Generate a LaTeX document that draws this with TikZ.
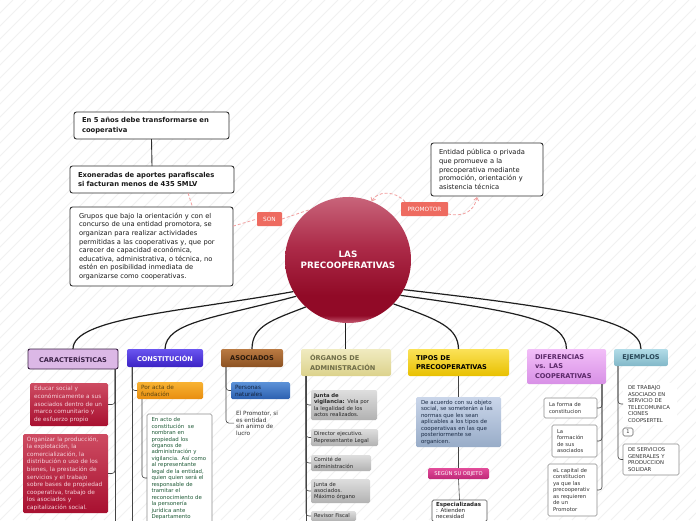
\documentclass[tikz,border=0pt]{standalone}
\usepackage{fontspec}
\setmainfont{DejaVu Sans}
\usetikzlibrary{arrows.meta,calc}
\definecolor{bdark}{HTML}{2E2E2E}
\definecolor{tdark}{HTML}{1A1A1A}
\definecolor{relpink}{HTML}{F2A0A0}
\definecolor{labred}{HTML}{EE6B60}
\definecolor{hatchc}{HTML}{F1F1F1}
\definecolor{lineg}{HTML}{444444}
\definecolor{cTop}{HTML}{C8647A}
\definecolor{cMid}{HTML}{AC2A48}
\definecolor{cDark}{HTML}{910A27}
\definecolor{cRim}{HTML}{C65C74}
\definecolor{carfill}{HTML}{DCB8E6}
\definecolor{cardraw}{HTML}{3A1F42}
\definecolor{cartext}{HTML}{3A2146}
\definecolor{conT}{HTML}{6A55F0}
\definecolor{conB}{HTML}{3B22C4}
\definecolor{asoT}{HTML}{BA7A42}
\definecolor{asoB}{HTML}{8C5222}
\definecolor{asotext}{HTML}{2B1A0C}
\definecolor{orgT}{HTML}{F0EBC0}
\definecolor{orgB}{HTML}{DCD28C}
\definecolor{orgtext}{HTML}{6E6C48}
\definecolor{tipT}{HTML}{FBE258}
\definecolor{tipB}{HTML}{E8C000}
\definecolor{difT}{HTML}{F2BEF8}
\definecolor{difB}{HTML}{D890E6}
\definecolor{diftext}{HTML}{5A2868}
\definecolor{ejeT}{HTML}{B2DCE8}
\definecolor{ejeB}{HTML}{82B8C8}
\definecolor{ejetext}{HTML}{2A4858}
\definecolor{redT}{HTML}{CE4C62}
\definecolor{redB}{HTML}{A81030}
\definecolor{redtext}{HTML}{F6D2DA}
\definecolor{oraT}{HTML}{F8B232}
\definecolor{oraB}{HTML}{E88E10}
\definecolor{oratext}{HTML}{5A4512}
\definecolor{bluT}{HTML}{5C92D8}
\definecolor{bluB}{HTML}{2C60B0}
\definecolor{blutext}{HTML}{13233D}
\definecolor{gryT}{HTML}{DEDEDE}
\definecolor{gryB}{HTML}{B2B2B2}
\definecolor{stlT}{HTML}{CAD6EA}
\definecolor{stlB}{HTML}{98ACC8}
\definecolor{stltext}{HTML}{1A2A44}
\definecolor{magT}{HTML}{E24C9A}
\definecolor{magB}{HTML}{C02878}
\definecolor{greentext}{HTML}{1E5A36}
\pgfdeclareverticalshading{ballshade}{100bp}{color(0bp)=(cRim); color(25bp)=(cRim); color(28bp)=(cDark); color(36bp)=(cDark); color(55bp)=(cMid); color(75bp)=(cTop); color(100bp)=(cTop)}
\newcommand\fsz[2]{\fontsize{#1}{#2}\selectfont}
\begin{document}
\begin{tikzpicture}[x=1pt,y=-1pt,
  nw/.style={anchor=north west, inner ysep=0pt, outer sep=0pt},
  topbox/.style={nw, draw=bdark, line width=0.9pt, fill=white, rounded corners=2.5pt, align=left, text=tdark},
  hdr/.style={nw, rounded corners=2pt, align=center, font=\bfseries\fsz{6.6}{9.6}, inner xsep=3pt},
  kid/.style={nw, rounded corners=1.5pt, align=left, inner xsep=4pt},
  conn/.style={draw=lineg, line width=0.6pt, rounded corners=3pt},
  branch/.style={draw=black!88, line width=1.2pt},
  rel/.style={draw=relpink, dash pattern=on 3pt off 2pt, line width=0.8pt},
  lab/.style={nw, fill=labred, text=white, rounded corners=1pt, font=\fsz{5.8}{7}, inner sep=0pt},
  redk/.style={kid, top color=redT, bottom color=redB, text=redtext, font=\fsz{5.8}{7.6}},
  gryk/.style={kid, inner xsep=3pt, top color=gryT, bottom color=gryB, text=black!85, font=\fsz{5.3}{6.4}},
  whk/.style={kid, inner xsep=5pt, fill=white, draw=black!45, line width=0.6pt, text=black!80, font=\fsz{5.3}{6.6}}
]
\useasboundingbox (0,0) rectangle (696,520);
\clip (0,0) rectangle (696,520);
\fill[white] (0,0) rectangle (696,520);
\foreach \i in {-520,-507,...,700} \draw[hatchc, line width=0.8pt] (\i,520) -- ++(520,-520);

% top boxes
\node[topbox, font=\bfseries\fsz{6.8}{9.2}, text width=139pt, inner xsep=8pt, minimum height=27pt] (b1) at (74,112) {En 5 años debe transformarse en\\cooperativa};
\node[topbox, font=\bfseries\fsz{6.8}{9.2}, text width=148pt, inner xsep=8pt, minimum height=27pt] (b2) at (70,166) {Exoneradas de aportes parafiscales\\si facturan menos de 435 SMLV};
\node[topbox, font=\fsz{6.7}{8.6}, text width=145pt, inner xsep=9pt, minimum height=79pt] (b3) at (70,207) {Grupos que bajo la orientación y con el\\concurso de una entidad promotora, se\\organizan para realizar actividades\\permitidas a las cooperativas y, que por\\carecer de capacidad económica,\\educativa, administrativa, o técnica, no\\estén en posibilidad inmediata de\\organizarse como cooperativas.};
\node[topbox, font=\fsz{6.7}{8.6}, text width=96pt, inner xsep=8pt, minimum height=53pt] (b4) at (431,143) {Entidad pública o privada\\que promueve a la\\precoperativa mediante\\promoción, orientación y\\asistencia técnica};

\draw[draw=bdark, line width=0.9pt] (b1.south) -- (b2.north);

% central circle
\node[circle, minimum size=126pt, inner sep=0pt, shading=ballshade, text=white, font=\bfseries\fsz{8.8}{11.5}, align=center] (c) at (348,260) {LAS\\PRECOOPERATIVAS};

% relation labels
\node[lab, minimum width=25pt, minimum height=14pt] (son) at (257,212) {SON};
\node[lab, minimum width=47pt, minimum height=14pt] (prom) at (401,202) {PROMOTOR};

\draw[rel] ($(b2.south)+(36,0)$) -- ($(b3.north)+(41,0)$);
\draw[rel] (b3.14) -- (son.west);
\draw[rel] (son.east) -- (c.127);
\draw[rel, {Straight Barb[length=3pt,width=5pt]}-] (c.68) .. controls (377,191) and (395,190) .. (prom.160);
\draw[rel, -{Straight Barb[length=3pt,width=5pt]}] (prom.-12) .. controls (463,217) and (474,212) .. ($(b4.south)+(-10,1)$);

% category headers
\node[hdr, fill=carfill, draw=cardraw, line width=0.9pt, text=cartext, minimum width=90pt, minimum height=20pt] (car) at (28,349) {CARACTERÍSTICAS};
\node[hdr, top color=conT, bottom color=conB, text=white, minimum width=76pt, minimum height=18pt] (con) at (127,349) {CONSTITUCIÓN};
\node[hdr, top color=asoT, bottom color=asoB, text=asotext, minimum width=62pt, minimum height=18pt] (aso) at (221,349) {ASOCIADOS};
\node[hdr, align=left, top color=orgT, bottom color=orgB, text=orgtext, text width=72pt, inner xsep=9pt, minimum height=27pt] (org) at (301,349) {ÓRGANOS DE\\ADMINISTRACIÓN};
\node[hdr, align=left, top color=tipT, bottom color=tipB, text=black, text width=85pt, inner xsep=8pt, minimum height=27pt] (tip) at (408,349) {TIPOS DE\\PRECOOPERATIVAS};
\node[hdr, align=left, top color=difT, bottom color=difB, text=diftext, text width=63pt, inner xsep=8pt, minimum height=35pt] (dif) at (527,349) {DIFERENCIAS\\vs. LAS\\COOPERATIVAS};
\node[hdr, top color=ejeT, bottom color=ejeB, text=ejetext, minimum width=54pt, minimum height=17pt] (eje) at (614,349) {EJEMPLOS};

% branches
\draw[branch] (c.210) .. controls (180,312) and (73,318) .. (car.north);
\draw[branch] (c.215) .. controls (215,318) and (166,322) .. (con.north);
\draw[branch] (c.228) .. controls (272,320) and (252,326) .. (aso.north);
\draw[branch] (c.268) -- (c.268 |- org.north);
\draw[branch] (c.316) .. controls (440,320) and (458,328) .. (tip.north);
\draw[branch] (c.326) .. controls (520,312) and (566,320) .. (dif.north);
\draw[branch] (c.332) .. controls (565,308) and (641,320) .. (eje.north);

% CARACTERISTICAS children
\node[redk, text width=70pt, minimum height=43pt] (car1) at (30,383) {Educar social y\\económicamente a sus\\asociados dentro de un\\marco comunitario y\\de esfuerzo propio};
\node[redk, text width=77pt, minimum height=79pt] (car2) at (23,434) {Organizar la producción,\\la explotación, la\\comercialización, la\\distribución o uso de los\\bienes, la prestación de\\servicios y el trabajo\\sobre bases de propiedad\\cooperativa, trabajo de\\los asociados y\\capitalización social.};
\coordinate (carl) at ($(car.south east)+(-3,0)$);
\draw[conn] (carl) -- ++(0,170);
\draw[conn] (carl) |- (car1.east);
\draw[conn] (carl) |- (car2.east);

% CONSTITUCION children
\node[kid, top color=oraT, bottom color=oraB, text=oratext, font=\fsz{5.8}{7}, text width=58pt, minimum height=17pt] (con1) at (137,382) {Por acta de\\fundación};
\node[kid, fill=white, draw=black!45, line width=0.6pt, text=greentext, font=\fsz{5.4}{6.47}, text width=56pt, inner xsep=4.5pt, inner ysep=3.5pt] (con2) at (147,414) {En acto de\\constitución \ se\\nombran en\\propiedad los\\órganos de\\administración y\\vigilancia. Así como\\al representante\\legal de la entidad,\\quien quien será el\\responsable de\\tramitar el\\reconocimiento de\\la personería\\jurídica ante\\Departamento};
\coordinate (conl) at ($(con.south west)+(5,0)$);
\draw[conn] (conl) -- ++(0,170);
\draw[conn] (conl) |- (con1.west);
\coordinate (con1l) at ($(con1.south west)+(5,0)$);
\draw[conn] (con1l) |- ($(con2.north west)+(0,64)$);

% ASOCIADOS children
\node[kid, top color=bluT, bottom color=bluB, text=blutext, font=\fsz{5.8}{7}, text width=51pt, minimum height=17pt] (aso1) at (231,382) {Personas\\naturales};
\node[nw, inner sep=0pt, align=left, text=black!80, font=\fsz{5.8}{6.6}] (aso2) at (236,411) {El Promotor, si\\es entidad\\sin animo de\\lucro};
\coordinate (asol) at ($(aso.south west)+(5,0)$);
\draw[conn] (asol) |- (aso1.west);
\draw[conn] (asol) |- ($(aso2.west)+(-2,0)$);

% ORGANOS children
\node[gryk, text width=60pt, minimum height=30pt] (org1) at (311,390) {\textbf{Junta de}\\\textbf{vigilancia:} Vela por\\la legalidad de los\\actos realizados.};
\node[gryk, text width=61pt, minimum height=17pt] (org2) at (311,429) {Director ejecutivo.\\Representante Legal};
\node[gryk, text width=54pt, minimum height=16pt] (org3) at (311,455) {Comité de\\administración};
\node[gryk, text width=53pt, minimum height=24pt] (org4) at (311,479) {Junta de\\asociados.\\Máximo órgano};
\node[gryk, text width=39pt, minimum height=10pt] (org5) at (311,511) {Revisor Fiscal};
\coordinate (orgl) at ($(org.south west)+(5,0)$);
\draw[conn] (orgl) -- ++(0,170);
\foreach \k in {org1,org2,org3,org4,org5} \draw[conn] (orgl) |- (\k.west);

% TIPOS children
\node[kid, top color=stlT, bottom color=stlB, text=stltext, font=\fsz{5.5}{6.5}, text width=75pt, inner xsep=5pt, minimum height=50pt] (tip1) at (416,397) {De acuerdo con su objeto\\social, se someterán a las\\normas que les sean\\aplicables a los tipos de\\cooperativas en las que\\posteriormente se\\organicen.};
\node[kid, align=center, top color=magT, bottom color=magB, text=white, font=\fsz{5.2}{6}, inner xsep=0pt, minimum width=61pt, minimum height=11pt] (seg) at (428,468) {SEGÚN SU OBJETO};
\node[kid, fill=white, draw=black!65, line width=0.7pt, text=black!85, font=\fsz{5.5}{6.1}, text width=47pt, inner ysep=2.5pt] (esp) at (432,500) {\textbf{Especializadas}\\: Atienden\\necesidad};
\draw[conn] (tip.south) -- (tip1.north);
\draw[conn] (tip1.south) -- (seg.north);
\draw[conn] (seg.south) -- (esp.north);

% DIFERENCIAS children
\node[whk, text width=43pt, minimum height=20pt] (dif1) at (544,398) {La forma de\\constitucion};
\node[whk, text width=35pt, minimum height=32pt] (dif2) at (552,425) {La\\formación\\de sus\\asociados};
\node[whk, text width=39pt, minimum height=52pt, font=\fsz{5.3}{6.5}] (dif3) at (548,464) {eL capital de\\constitucion\\ya que las\\precooperativ\\as requieren\\de un\\Promotor};
\coordinate (difl) at ($(dif.south east)+(-4,0)$);
\draw[conn] (difl) |- (dif1.east);
\draw[conn] (difl) |- (dif2.east);
\draw[conn] (difl) |- (dif3.east);

% EJEMPLOS children
\node[kid, fill=white, text=black!80, font=\fsz{5.3}{6.5}, text width=44pt, inner xsep=5pt, minimum height=42pt] (eje1) at (623,383) {DE TRABAJO\\ASOCIADO EN\\SERVICIO DE\\TELECOMUNICA\\CIONES\\COOPSERTEL};
\node[kid, align=center, fill=white, draw=black!60, line width=0.6pt, text=black!80, font=\fsz{5}{6}, inner xsep=0pt, minimum width=10pt, minimum height=8pt] (eje1n) at (623,428) {1};
\node[whk, text width=46pt, minimum height=31pt] (eje2) at (623,444) {DE SERVICIOS\\GENERALES Y\\PRODUCCION\\SOLIDAR};
\coordinate (ejel) at ($(eje.south west)+(4,0)$);
\draw[conn] (ejel) |- (eje1.west);
\draw[conn] (ejel) |- (eje2.west);
\end{tikzpicture}
\end{document}
